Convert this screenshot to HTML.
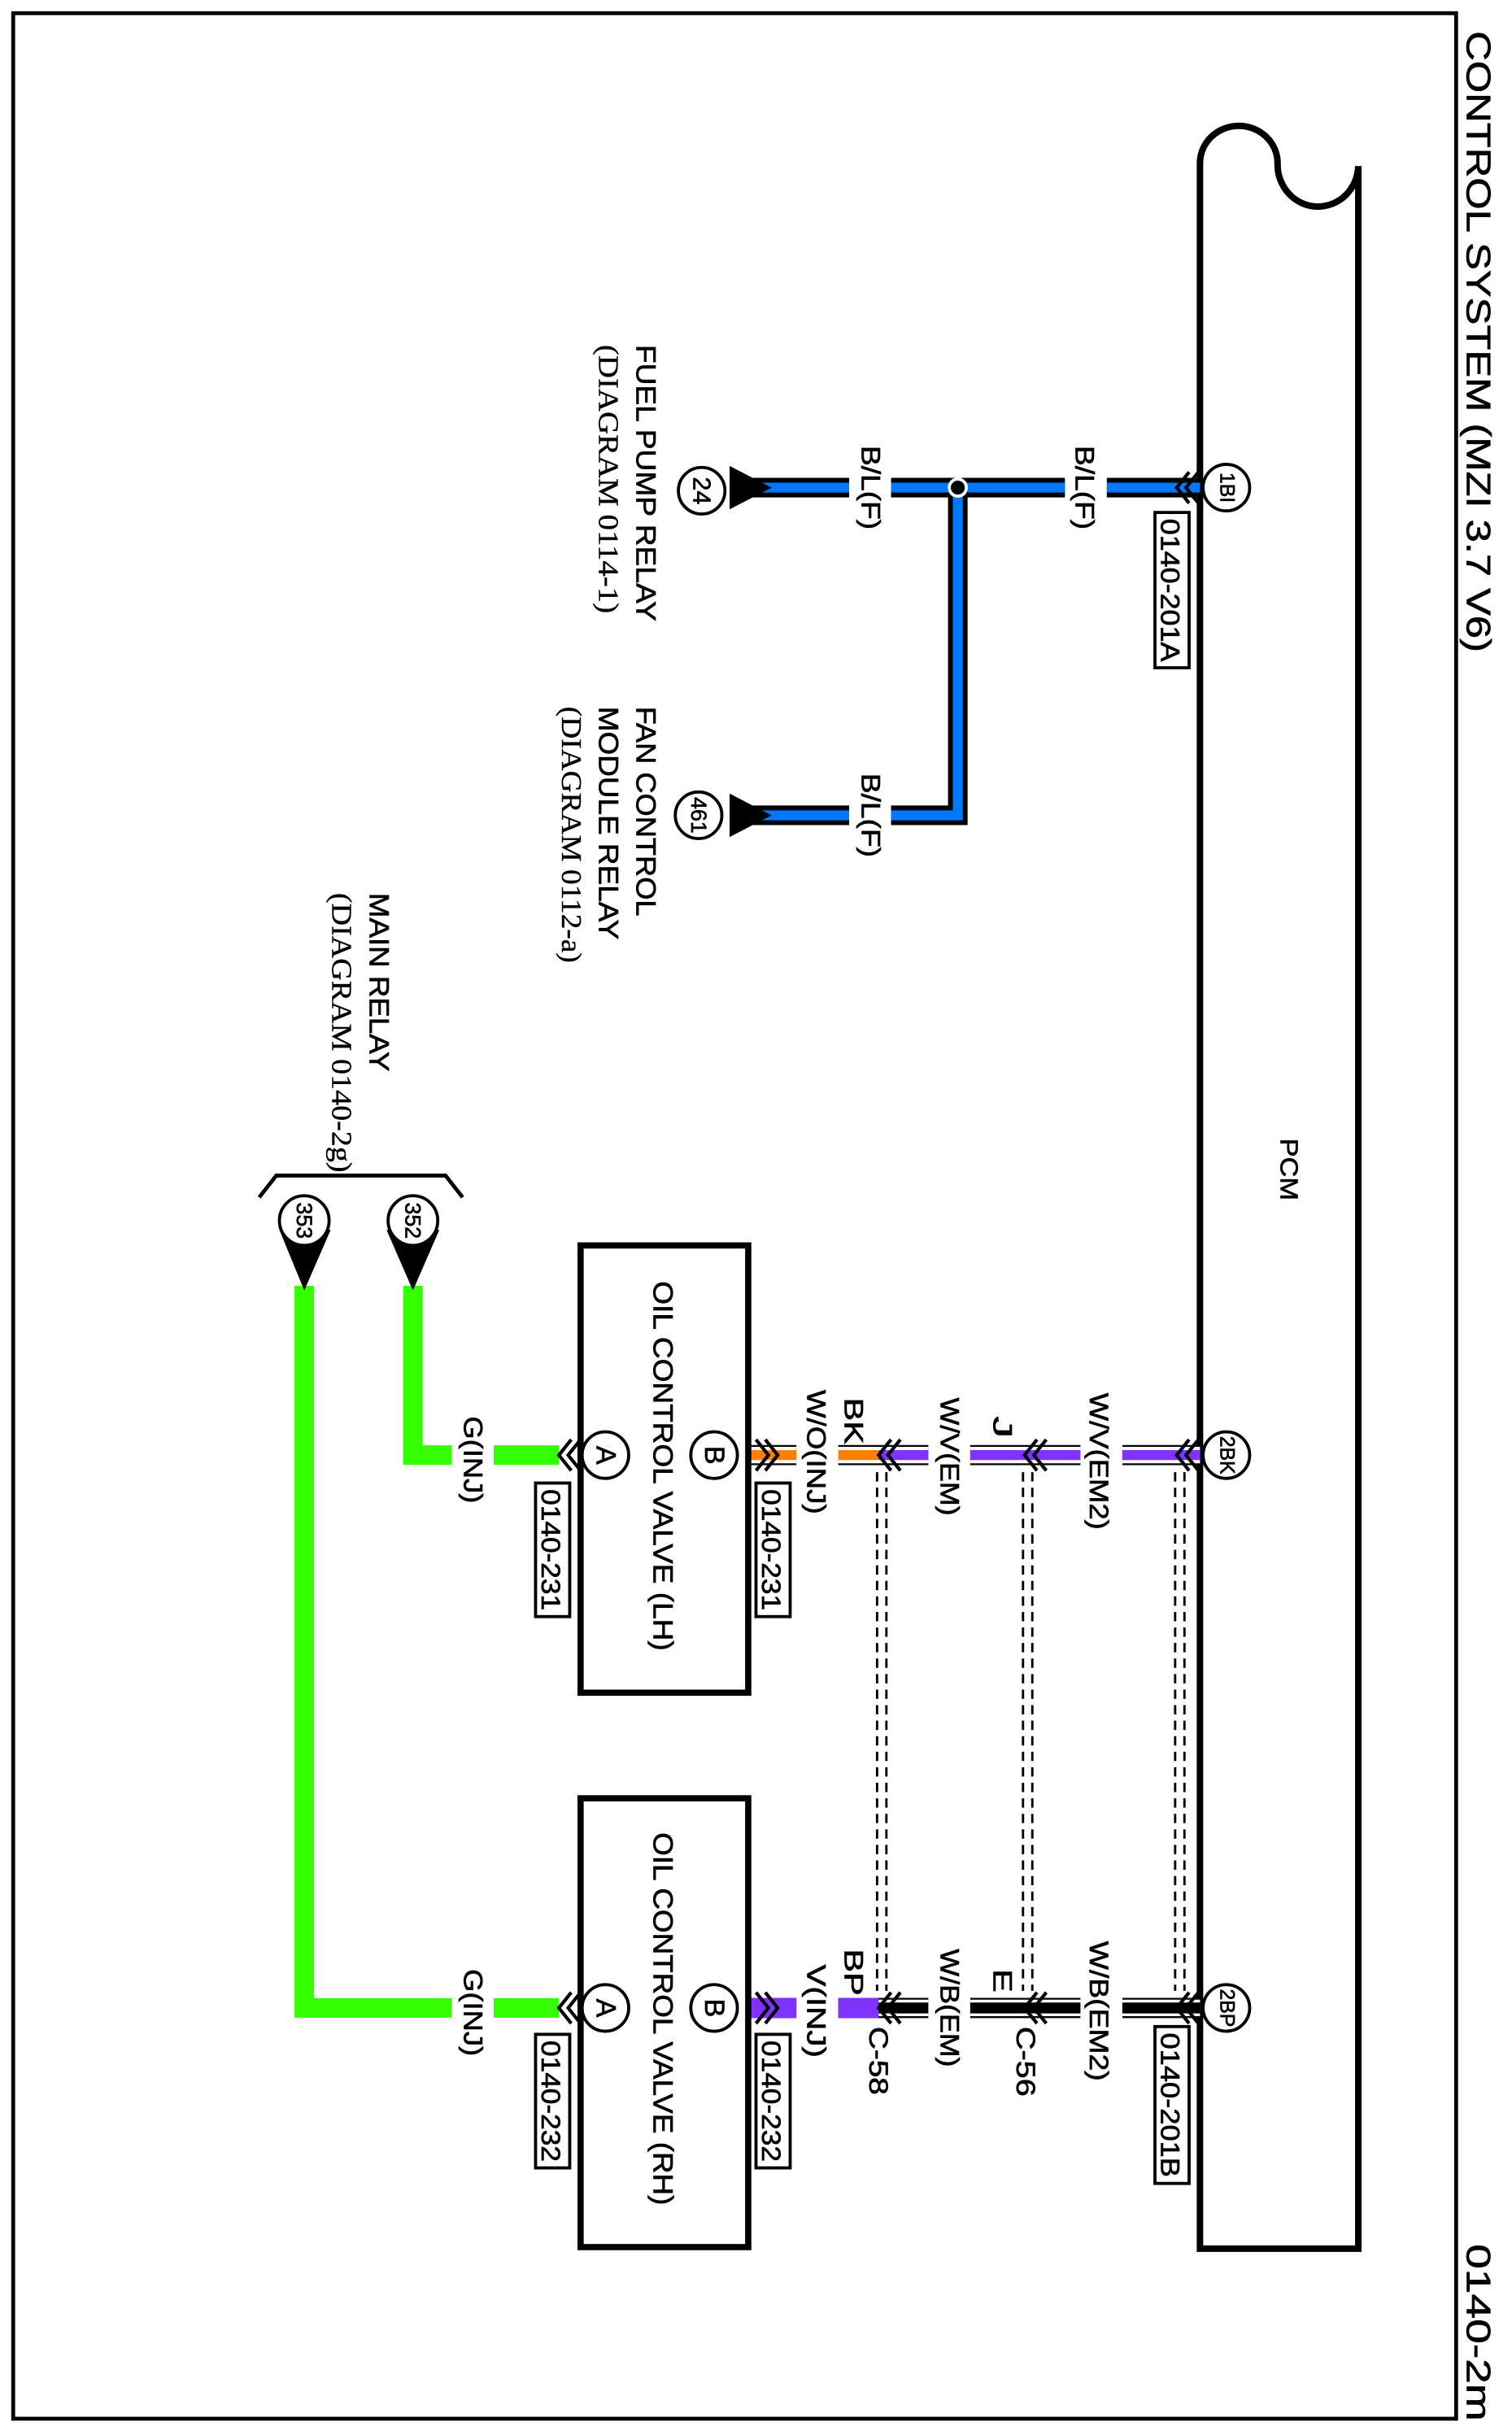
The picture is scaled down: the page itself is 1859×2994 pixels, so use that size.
<!DOCTYPE html>
<html><head><meta charset="utf-8"><style>
html,body{margin:0;padding:0;background:#fff;}
svg{display:block;}
text{font-family:"Liberation Sans",sans-serif;fill:#000;stroke:#000;stroke-width:0.35;}
.s{font-family:"Liberation Serif",serif;font-weight:normal;stroke-width:0.2;}
</style></head><body>
<svg width="1859" height="2994" viewBox="0 0 974 1568" preserveAspectRatio="none" xmlns="http://www.w3.org/2000/svg">
<rect x="0" y="0" width="974" height="1568" fill="#fff"/>
<rect x="8.5" y="8.5" width="929.5" height="1549" fill="none" stroke="#000" stroke-width="2.5"/>
<text transform="translate(945,20) rotate(90)" font-size="22" textLength="400" lengthAdjust="spacingAndGlyphs">CONTROL SYSTEM (MZI 3.7 V6)</text>
<text transform="translate(945,1445) rotate(90)" font-size="22" textLength="114" lengthAdjust="spacingAndGlyphs">0140-2m</text>

<!-- PCM -->
<path d="M773,1448 V105 A25,24 0 0 1 823,105 A26,27 0 0 0 875,107 V1448 Z" fill="none" stroke="#000" stroke-width="4.2"/>
<text transform="translate(825,733) rotate(90)" font-size="16" textLength="40" lengthAdjust="spacingAndGlyphs">PCM</text>

<!-- blue wires -->
<g fill="none" stroke-linejoin="miter">
<path d="M470,314 H547 M574,314 H686 M713,314 H773" stroke="#000" stroke-width="12.6"/>
<path d="M470,314 H547 M574,314 H686 M713,314 H773" stroke="#0077ff" stroke-width="6.4"/>
<path d="M617,314 V525 H574 M547,525 H470" stroke="#000" stroke-width="12.6"/>
<path d="M617,314 V525 H574 M547,525 H470" stroke="#0077ff" stroke-width="6.4"/>
</g>
<circle cx="617" cy="314" r="5.5" fill="#000" stroke="#fff" stroke-width="2"/>
<polygon points="470,300 497,314 470,328" fill="#000"/>
<polygon points="470,511 497,525 470,539" fill="#000"/>
<text transform="translate(693,287) rotate(90)" font-size="17" textLength="54" lengthAdjust="spacingAndGlyphs">B/L(F)</text>
<text transform="translate(555,287) rotate(90)" font-size="17" textLength="54" lengthAdjust="spacingAndGlyphs">B/L(F)</text>
<text transform="translate(555,498) rotate(90)" font-size="17" textLength="54" lengthAdjust="spacingAndGlyphs">B/L(F)</text>

<!-- outlined wires -->
<g fill="none">
<path d="M482,937 H513 M540,937 H565 M565,937 H598 M625,937 H696 M723,937 H773" stroke="#000" stroke-width="13"/>
<path d="M482,937 H513 M540,937 H565 M565,937 H598 M625,937 H696 M723,937 H773" stroke="#fff" stroke-width="10.6"/>
<path d="M482,937 H513 M540,937 H566" stroke="#ff8000" stroke-width="6.4"/>
<path d="M566,937 H598 M625,937 H696 M723,937 H773" stroke="#8033ff" stroke-width="6.4"/>
<path d="M482,1293 H513 M540,1293 H565 M565,1293 H598 M625,1293 H696 M723,1293 H773" stroke="#000" stroke-width="13"/>
<path d="M565,1293 H598 M625,1293 H696 M723,1293 H773" stroke="#fff" stroke-width="10.6"/>
<path d="M482,1293 H513 M540,1293 H566" stroke="#8033ff" stroke-width="13"/>
<path d="M566,1293 H598 M625,1293 H696 M723,1293 H773" stroke="#000" stroke-width="7"/>
</g>
<!-- chevrons -->
<g fill="none" stroke="#000" stroke-width="2.2">
<path d="M766,927 L758,937 L766,947 M772,927 L764,937 L772,947"/>
<path d="M668,927 L660,937 L668,947 M674,927 L666,937 L674,947"/>
<path d="M574,927 L566,937 L574,947 M580,927 L572,937 L580,947"/>
<path d="M487,927 L495,937 L487,947 M493,927 L501,937 L493,947"/>
<path d="M766,1283 L758,1293 L766,1303 M772,1283 L764,1293 L772,1303"/>
<path d="M668,1283 L660,1293 L668,1303 M674,1283 L666,1293 L674,1303"/>
<path d="M574,1283 L566,1293 L574,1303 M580,1283 L572,1293 L580,1303"/>
<path d="M487,1283 L495,1293 L487,1303 M493,1283 L501,1293 L493,1303"/>
<path d="M766,304 L758,314 L766,324 M772,304 L764,314 L772,324"/>
</g>
<!-- shield dashed -->
<g stroke="#000" stroke-width="1.5" stroke-dasharray="6,4" fill="none">
<path d="M565,948 V1282 M571,948 V1282 M659,948 V1282 M665,948 V1282 M757,948 V1282 M763,948 V1282"/>
</g>

<!-- green -->
<g fill="none" stroke="#33ff00" stroke-width="12.6" stroke-linejoin="miter">
<path d="M266,828 V937 H291"/>
<path d="M318,937 H360"/>
<path d="M196,828 V1293 H291"/>
<path d="M318,1293 H360"/>
</g>
<g fill="none" stroke="#000" stroke-width="2.2">
<path d="M368,927 L360,937 L368,947 M374,927 L366,937 L374,947"/>
<path d="M368,1283 L360,1293 L368,1303 M374,1283 L366,1293 L374,1303"/>
</g>
<polygon points="180,792 213,792 196,831" fill="#000"/>
<polygon points="249,792 283,792 266,831" fill="#000"/>
<path d="M167,771 L178,757 H287 L298,771" fill="none" stroke="#000" stroke-width="2.5"/>

<!-- OCV boxes -->
<rect x="374" y="802" width="108" height="288" fill="none" stroke="#000" stroke-width="4"/>
<rect x="374" y="1158" width="108" height="289" fill="none" stroke="#000" stroke-width="4"/>
<text transform="translate(421,825) rotate(90)" font-size="18" textLength="238" lengthAdjust="spacingAndGlyphs">OIL CONTROL VALVE (LH)</text>
<text transform="translate(421,1180) rotate(90)" font-size="18" textLength="240" lengthAdjust="spacingAndGlyphs">OIL CONTROL VALVE (RH)</text>

<!-- label boxes -->
<g fill="#fff" stroke="#000" stroke-width="2">
<rect x="744" y="330" width="22" height="100"/>
<rect x="744" y="1305" width="22" height="101"/>
<rect x="345" y="955" width="22" height="86"/>
<rect x="487" y="955" width="22" height="86"/>
<rect x="345" y="1310" width="22" height="86"/>
<rect x="487" y="1310" width="22" height="86"/>
</g>
<g font-size="17">
<text transform="translate(748,334) rotate(90)" textLength="92" lengthAdjust="spacingAndGlyphs">0140-201A</text>
<text transform="translate(748,1309) rotate(90)" textLength="93" lengthAdjust="spacingAndGlyphs">0140-201B</text>
<text transform="translate(349,959) rotate(90)" textLength="78" lengthAdjust="spacingAndGlyphs">0140-231</text>
<text transform="translate(491,959) rotate(90)" textLength="78" lengthAdjust="spacingAndGlyphs">0140-231</text>
<text transform="translate(349,1314) rotate(90)" textLength="78" lengthAdjust="spacingAndGlyphs">0140-232</text>
<text transform="translate(491,1314) rotate(90)" textLength="78" lengthAdjust="spacingAndGlyphs">0140-232</text>
</g>

<!-- pin circles -->
<g fill="#fff" stroke="#000" stroke-width="2">
<circle cx="790" cy="314" r="15"/>
<circle cx="790" cy="937" r="15"/>
<circle cx="790" cy="1293" r="15"/>
<circle cx="452" cy="316" r="15"/>
<circle cx="450" cy="525" r="15"/>
<circle cx="196" cy="786" r="16"/>
<circle cx="266" cy="786" r="16"/>
<circle cx="390" cy="937" r="15"/>
<circle cx="460" cy="937" r="15"/>
<circle cx="390" cy="1293" r="15"/>
<circle cx="460" cy="1293" r="15"/>
</g>
<g text-anchor="middle" dominant-baseline="central">
<text transform="translate(790,314) rotate(90)" font-size="13">1BI</text>
<text transform="translate(790,937) rotate(90)" font-size="13">2BK</text>
<text transform="translate(790,1293) rotate(90)" font-size="13">2BP</text>
<text transform="translate(452,316) rotate(90)" font-size="16">24</text>
<text transform="translate(450,525) rotate(90)" font-size="14">461</text>
<text transform="translate(196,786) rotate(90)" font-size="14">353</text>
<text transform="translate(266,786) rotate(90)" font-size="14">352</text>
<text transform="translate(390,937) rotate(90)" font-size="18">A</text>
<text transform="translate(460,937) rotate(90)" font-size="18">B</text>
<text transform="translate(390,1293) rotate(90)" font-size="18">A</text>
<text transform="translate(460,1293) rotate(90)" font-size="18">B</text>
</g>

<!-- relay labels -->
<text transform="translate(410,222) rotate(90)" font-size="18" textLength="178" lengthAdjust="spacingAndGlyphs">FUEL PUMP RELAY</text>
<text class="s" transform="translate(386,222) rotate(90)" font-size="18" textLength="173" lengthAdjust="spacingAndGlyphs">(DIAGRAM 0114-1)</text>
<text transform="translate(410,455) rotate(90)" font-size="18" textLength="135" lengthAdjust="spacingAndGlyphs">FAN CONTROL</text>
<text transform="translate(386,455) rotate(90)" font-size="18" textLength="150" lengthAdjust="spacingAndGlyphs">MODULE RELAY</text>
<text class="s" transform="translate(362,455) rotate(90)" font-size="18" textLength="165" lengthAdjust="spacingAndGlyphs">(DIAGRAM 0112-a)</text>
<text transform="translate(238,575) rotate(90)" font-size="18" textLength="115" lengthAdjust="spacingAndGlyphs">MAIN RELAY</text>
<text class="s" transform="translate(214,575) rotate(90)" font-size="18" textLength="180" lengthAdjust="spacingAndGlyphs">(DIAGRAM 0140-2g)</text>

<!-- wire labels -->
<g font-size="17">
<text transform="translate(702,897) rotate(90)" textLength="88" lengthAdjust="spacingAndGlyphs">W/V(EM2)</text>
<text transform="translate(640,912) rotate(90)" textLength="14" lengthAdjust="spacingAndGlyphs">J</text>
<text transform="translate(606,900) rotate(90)" textLength="76" lengthAdjust="spacingAndGlyphs">W/V(EM)</text>
<text transform="translate(544,900) rotate(90)" textLength="30" lengthAdjust="spacingAndGlyphs">BK</text>
<text transform="translate(520,895) rotate(90)" textLength="80" lengthAdjust="spacingAndGlyphs">W/O(INJ)</text>
<text transform="translate(299,912) rotate(90)" textLength="56" lengthAdjust="spacingAndGlyphs">G(INJ)</text>
<text transform="translate(702,1250) rotate(90)" textLength="90" lengthAdjust="spacingAndGlyphs">W/B(EM2)</text>
<text transform="translate(640,1268) rotate(90)" textLength="15" lengthAdjust="spacingAndGlyphs">E</text>
<text transform="translate(655,1305) rotate(90)" textLength="45" lengthAdjust="spacingAndGlyphs">C-56</text>
<text transform="translate(606,1255) rotate(90)" textLength="76" lengthAdjust="spacingAndGlyphs">W/B(EM)</text>
<text transform="translate(560,1305) rotate(90)" textLength="44" lengthAdjust="spacingAndGlyphs">C-58</text>
<text transform="translate(544,1255) rotate(90)" textLength="30" lengthAdjust="spacingAndGlyphs">BP</text>
<text transform="translate(520,1265) rotate(90)" textLength="60" lengthAdjust="spacingAndGlyphs">V(INJ)</text>
<text transform="translate(299,1268) rotate(90)" textLength="56" lengthAdjust="spacingAndGlyphs">G(INJ)</text>
</g>
</svg>
</body></html>
